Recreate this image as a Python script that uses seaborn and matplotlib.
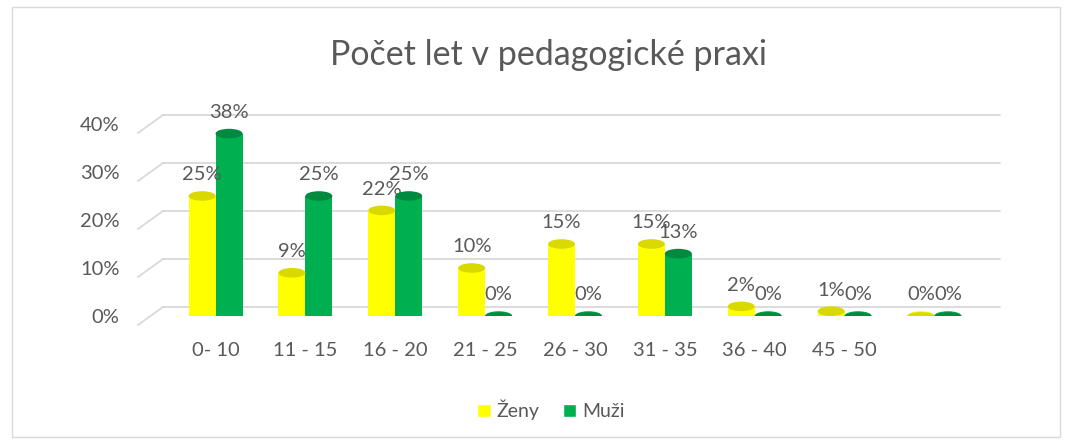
import pandas as pd
import matplotlib.pyplot as plt
import matplotlib.transforms as mtransforms
from matplotlib.patches import Ellipse, Patch, Rectangle
import seaborn as sns

# data z grafu (procenta)
kategorie = ["0- 10", "11 - 15", "16 - 20", "21 - 25", "26 - 30", "31 - 35", "36 - 40", "45 - 50", ""]
zeny = [25, 9, 22, 10, 15, 15, 2, 1, 0]
muzi = [38, 25, 25, 0, 0, 13, 0, 0, 0]
skupiny = ["Ženy", "Muži"]
y_ticks = [0, 10, 20, 30, 40]

barvy = ["#FFFF00", "#00B050"]
barvy_vrch = ["#D9D900", "#008A40"]
seda = "#595959"
mrizka = "#D9D9D9"

sns.set_theme(style="white")
plt.rcParams["font.family"] = ["Lato", "DejaVu Sans"]

df = pd.DataFrame({
    "Kategorie": kategorie * 2,
    "Skupina": [skupiny[0]] * len(kategorie) + [skupiny[1]] * len(kategorie),
    "Procent": zeny + muzi,
})

fig = plt.figure(figsize=(10.71, 4.43), dpi=100)
ax = fig.add_axes([150 / 1071, 127 / 443, 850 / 1071, 216 / 443])

sns.barplot(data=df, x="Kategorie", y="Procent", hue="Skupina", order=kategorie,
            hue_order=skupiny, palette=barvy, saturation=1, width=0.6,
            linewidth=0, legend=False, ax=ax, zorder=3)
ax.set_ylim(0, 45)

# valce - zaoblene dno a horni elipsa
for cont, c_tel, c_vrch in zip(ax.containers, barvy, barvy_vrch):
    for bar in cont:
        x = bar.get_x() + bar.get_width() / 2
        w = bar.get_width()
        h = bar.get_height()
        ax.add_patch(Ellipse((x, 0), w, 2.0, facecolor=c_tel, edgecolor="none", zorder=3))
        ax.add_patch(Ellipse((x, h), w, 1.6 if h == 0 else 2.0, facecolor=c_vrch,
                             edgecolor="none", zorder=4))

# popisky hodnot
for cont, vals in zip(ax.containers, [zeny, muzi]):
    ax.bar_label(cont, labels=[f"{v}%" for v in vals], padding=9, fontsize=14.5, color=seda)

# mrizka na zadni stene (3D vzhled)
px = 1 / 100
nahoru = mtransforms.ScaledTranslation(0, 9 * px, fig.dpi_scale_trans)
dolu = mtransforms.ScaledTranslation(0, -8 * px, fig.dpi_scale_trans)
tr = ax.get_yaxis_transform()
x0 = 13 / 850
for v in y_ticks:
    ax.plot([x0, 1], [v, v], transform=tr + nahoru, color=mrizka, lw=1.3, zorder=0, clip_on=False)
    ax.annotate("", xy=(x0, v), xycoords=tr + nahoru, xytext=(-25, -18), textcoords="offset pixels",
                arrowprops=dict(arrowstyle="-", color=mrizka, lw=1.3, shrinkA=0, shrinkB=0))

ax.set_yticks(y_ticks)
ax.set_yticklabels([f"{v}%" for v in y_ticks])
for lbl in ax.get_yticklabels():
    lbl.set_transform(lbl.get_transform() + dolu)
ax.tick_params(axis="y", length=0, pad=22, labelsize=14.5, labelcolor=seda)
ax.tick_params(axis="x", length=0, pad=19, labelsize=14.5, labelcolor=seda)
ax.set_xlabel("")
ax.set_ylabel("")
sns.despine(ax=ax, left=True, bottom=True)

fig.text(548 / 1071, 1 - 55 / 443, "Počet let v pedagogické praxi", ha="center", va="center",
         fontsize=24.5, color=seda)

handles = [Patch(facecolor=c, label=s) for c, s in zip(barvy, skupiny)]
fig.legend(handles=handles, loc="center", bbox_to_anchor=(551 / 1071, 1 - 410 / 443), ncol=2,
           frameon=False, fontsize=14, handlelength=0.7, handleheight=0.7, handletextpad=0.3,
           columnspacing=1.2, labelcolor=seda)

fig.patches.append(Rectangle((12 / 1071, 6 / 443), 1048 / 1071, 430 / 443, transform=fig.transFigure,
                             fill=False, edgecolor=mrizka, lw=1))

fig.savefig("out.png", dpi=100)
